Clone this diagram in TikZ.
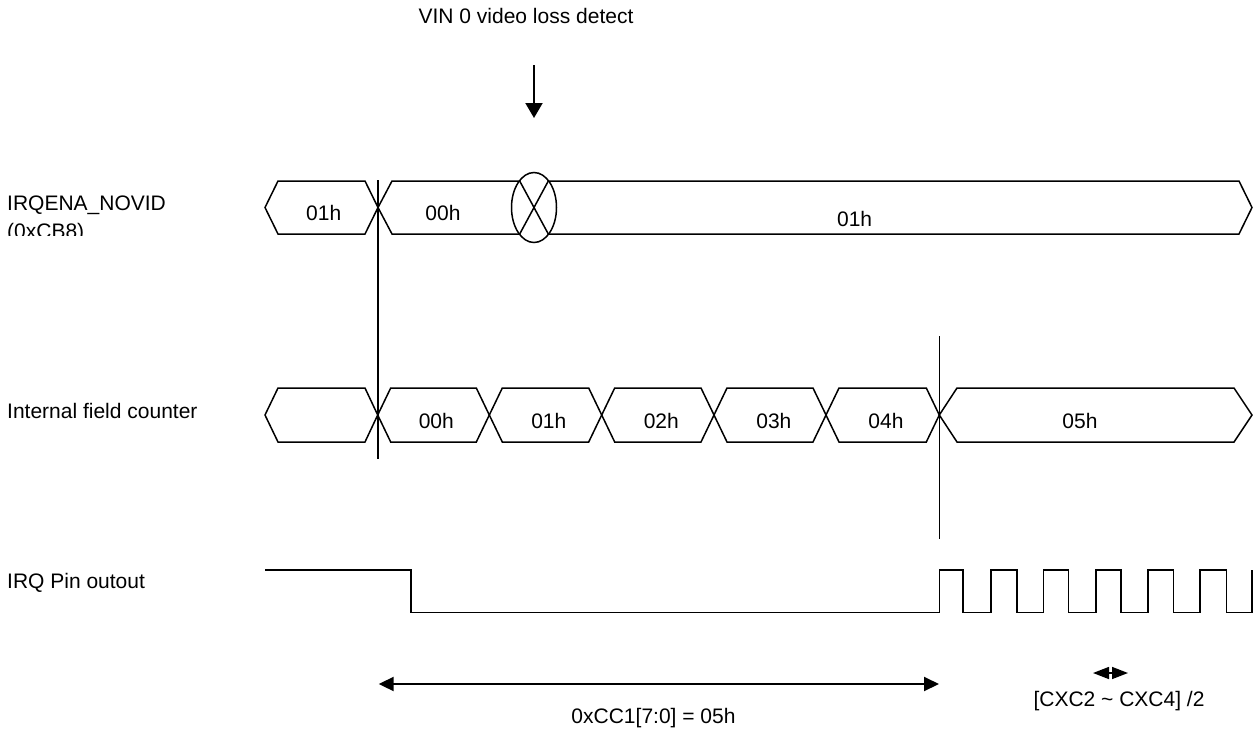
\documentclass[tikz,border=0pt]{standalone}
\usepackage{fontspec}
\setmainfont{Liberation Sans}
\usetikzlibrary{arrows.meta}
\begin{document}
\begin{tikzpicture}[x=1pt,y=-1pt,line join=miter,
  sig/.style={line width=1.5pt},
  lbl/.style={inner sep=0pt,font=\fontsize{21}{25}\selectfont},
  darr/.style={line width=2pt,-{Triangle[length=15pt,width=17pt]}},
  dimarr/.style={line width=2pt,{Triangle[length=15pt,width=14pt]}-{Triangle[length=15pt,width=14pt]}},
  smallarr/.style={line width=1.5pt,{Triangle[length=16pt,width=12pt]}-{Triangle[length=16pt,width=12pt]}}]
\useasboundingbox (0,0) rectangle (1254,732);

% top event
\node[lbl,anchor=base] (vin) at (526,23.3) {VIN 0 video loss detect};
\coordinate (aTop) at (534,65);
\coordinate (aTip) at (534,118);
\draw[darr] (aTop) -- (aTip);

% left labels
\node[lbl,anchor=base west] (irqena) at (7,210.7) {IRQENA\_NOVID};
\begin{scope}
\clip (0,214) rectangle (260,235);
\node[lbl,anchor=base west] (cb8) at (7,238) {(0xCB8)};
\end{scope}
\node[lbl,anchor=base west] (ifc) at (7,418) {Internal field counter};
\node[lbl,anchor=base west] (irqpin) at (7,588) {IRQ Pin outout};

% row 1: IRQENA_NOVID
\draw[sig] (265,207.5) -- (278,181) -- (365,181) -- (378,207.5) -- (365,234) -- (278,234) -- cycle;
\draw[sig] (378,207.5) -- (392,181) -- (519.7,181) -- (548.3,234) -- (1239,234) -- (1252,207.5)
  -- (1239,181) -- (548.3,181) -- (519.7,234) -- (392,234) -- cycle;
\draw[sig] (534,207.5) ellipse [x radius=22.5, y radius=35];
\node[lbl,anchor=base] (r1a) at (323.7,220.7) {01h};
\node[lbl,anchor=base] (r1b) at (443,220.7) {00h};
\node[lbl,anchor=base] (r1c) at (854.6,226.7) {01h};

% row 2: internal field counter
\draw[sig] (265,415) -- (278,388) -- (365,388) -- (377.7,415) -- (365,442) -- (278,442) -- cycle;
\foreach \a/\b in {377.7/489.3, 489.3/601.7, 601.7/714, 714/826, 826/939.3}{
  \draw[sig] (\a,415) -- (\a+13,388) -- (\b-13,388) -- (\b,415) -- (\b-13,442) -- (\a+13,442) -- cycle;
}
\draw[sig] (939.3,415) -- (957,388) -- (1234,388) -- (1252,415) -- (1234,442) -- (957,442) -- cycle;
\node[lbl,anchor=base] (r2a) at (436.3,428.3) {00h};
\node[lbl,anchor=base] (r2b) at (548.8,428.3) {01h};
\node[lbl,anchor=base] (r2c) at (661.3,428.3) {02h};
\node[lbl,anchor=base] (r2d) at (773.9,428.3) {03h};
\node[lbl,anchor=base] (r2e) at (886,428.3) {04h};
\node[lbl,anchor=base] (r2f) at (1080,428.3) {05h};

% vertical markers
\draw[sig] (378,180) -- (378,459);
\draw[sig] (939.3,336) -- (939.3,539);

% row 3: IRQ pin
\draw[sig] (265,570) -- (411,570) -- (411,612.7) -- (939.3,612.7) -- (939.3,570)
  -- (963,570) -- (963,612.7) -- (991,612.7) -- (991,570)
  -- (1017,570) -- (1017,612.7) -- (1043.5,612.7) -- (1043.5,570)
  -- (1068.5,570) -- (1068.5,612.7) -- (1096,612.7) -- (1096,570)
  -- (1121,570) -- (1121,612.7) -- (1148,612.7) -- (1148,570)
  -- (1173.5,570) -- (1173.5,612.7) -- (1200,612.7) -- (1200,570)
  -- (1226.5,570) -- (1226.5,612.7) -- (1252,612.7) -- (1252,570);

% bottom dimensions
\coordinate (dL) at (378.7,684);
\coordinate (dR) at (939,684);
\draw[dimarr] (dL) -- (dR);
\node[lbl,anchor=base] (cc1) at (653.5,723.6) {0xCC1[7:0] = 05h};
\coordinate (pL) at (1093,673);
\coordinate (pR) at (1128,673);
\draw[smallarr] (pL) -- (pR);
\node[lbl,anchor=base] (cxc) at (1119,706.7) {[CXC2 \textasciitilde{} CXC4] /2};
\end{tikzpicture}
\end{document}
